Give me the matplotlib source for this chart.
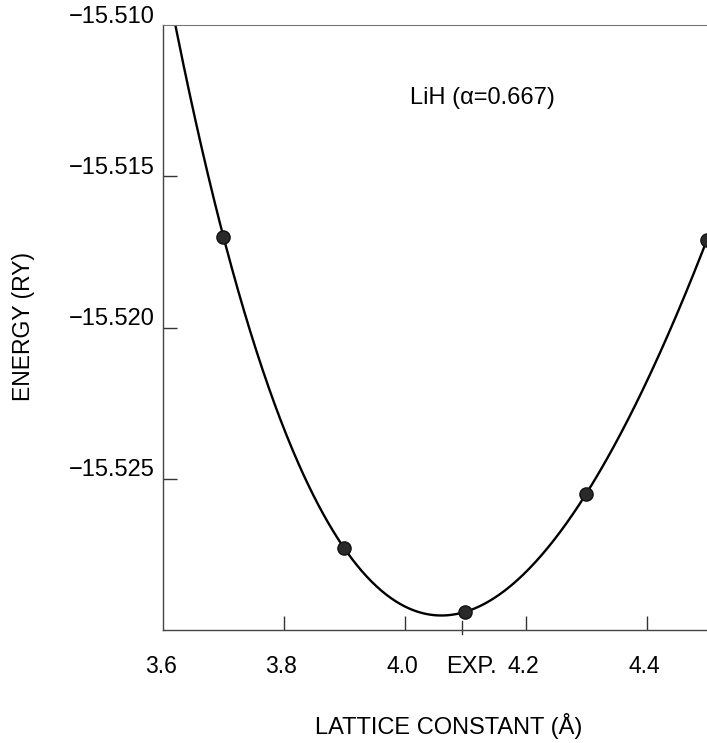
import matplotlib
matplotlib.use("Agg")
import matplotlib.pyplot as plt
import numpy as np
from matplotlib.transforms import offset_copy

plt.rcParams["font.family"] = ["Liberation Sans", "DejaVu Sans"]

# points
lattice = [3.7, 3.9, 4.1, 4.3, 4.5]
energy = [-15.5170, -15.5273, -15.5294, -15.5255, -15.5171]
exp_a = 4.094

yticks = [-15.510, -15.515, -15.520, -15.525]
ylabels = ["\u221215.510", "\u221215.515", "\u221215.520", "\u221215.525"]
xticks = [3.6, 3.8, 4.0, 4.2, 4.4]
xlabels = ["3.6", "3.8", "4.0", "4.2", "4.4"]

fig = plt.figure(figsize=(7.07, 7.43), dpi=100)
ax = fig.add_axes([163/707, 1-630/743, 1-163/707, 605/743])

coef = np.polyfit(lattice, energy, 4)
xs = np.linspace(3.55, 4.55, 500)
ax.plot(xs, np.polyval(coef, xs), color="black", lw=1.7)
ax.plot(lattice, energy, "o", color="#2a2a2a", ms=9.5, mec="#111111")

ax.set_xlim(3.6, 4.5)
ax.set_ylim(-15.530, -15.510)

ax.set_yticks(yticks[1:])
ax.set_yticklabels([])
ax.set_xticks(xticks[1:])
ax.set_xticklabels([])
ax.tick_params(direction="in", length=10, width=1.0, color="#333333")

for s in ["left", "bottom"]:
    ax.spines[s].set_color("#444444")
    ax.spines[s].set_linewidth(1.0)
ax.spines["top"].set_color("#777777")
ax.spines["top"].set_linewidth(0.8)
ax.spines["right"].set_visible(False)

# tick labels placed like the original (y labels sit a little above the ticks)
ytr = offset_copy(ax.get_yaxis_transform(), fig=fig, x=-6, y=6, units="points")
for v, t in zip(yticks, ylabels):
    ax.text(0, v, t, transform=ytr, ha="right", va="center", fontsize=17)
for v, t in zip(xticks, xlabels):
    ax.text(v - 0.004, -0.071, t, transform=ax.get_xaxis_transform(),
            ha="center", va="baseline", fontsize=16.5)

# experimental lattice constant mark
ax.plot([exp_a, exp_a], [-0.007, 0.015], color="#333333", lw=1.0,
        transform=ax.get_xaxis_transform(), clip_on=False)
ax.text(exp_a - 0.025, -0.071, "EXP.", transform=ax.get_xaxis_transform(),
        ha="left", va="baseline", fontsize=17)

ax.text(410/707, 1-98/743, "LiH (\u03b1=0.667)", transform=fig.transFigure,
        ha="left", va="center", fontsize=17)

fig.text(449/707, 1-726/743, "LATTICE CONSTANT (\u00c5)", ha="center",
         va="center", fontsize=17)
fig.text(24/707, 1-327/743, "ENERGY (RY)", ha="center", va="center",
         rotation=90, fontsize=16.5)

fig.savefig("out.png", dpi=100)
